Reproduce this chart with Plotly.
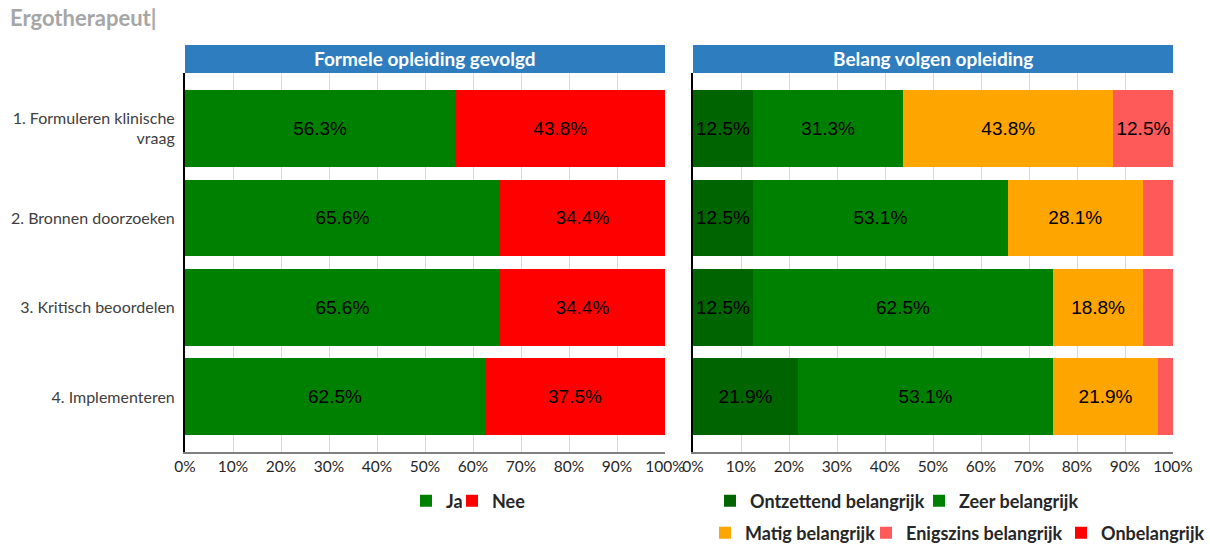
import plotly.graph_objects as go

W, H = 1210, 544

categories = ["1. Formuleren klinische<br>vraag", "2. Bronnen doorzoeken",
              "3. Kritisch beoordelen", "4. Implementeren"]

# Left panel: Formele opleiding gevolgd
ja = [56.3, 65.6, 65.6, 62.5]
nee = [43.8, 34.4, 34.4, 37.5]

# Right panel: Belang volgen opleiding
ontzettend = [12.5, 12.5, 12.5, 21.9]
zeer = [31.3, 53.1, 62.5, 53.1]
matig = [43.8, 28.1, 18.8, 21.9]
enigszins = [12.5, 6.3, 6.3, 3.1]
onbelangrijk = [0, 0, 0, 0]

left_series = [("Ja", ja, "#008000"), ("Nee", nee, "#FF0000")]
right_series = [
    ("Ontzettend belangrijk", ontzettend, "#006400"),
    ("Zeer belangrijk", zeer, "#008000"),
    ("Matig belangrijk", matig, "#FFA500"),
    ("Enigszins belangrijk", enigszins, "#FF5A5A"),
    ("Onbelangrijk", onbelangrijk, "#FF0000"),
]

panel_titles = ["Formele opleiding gevolgd", "Belang volgen opleiding"]
chart_title = "Ergotherapeut|"

# legend placement (pixel x of legend box, pixel y of row centre), one per series
legend_pos = [(406, 501), (452, 501),
              (710, 501), (919, 501),
              (705, 533), (866, 533), (1061, 533)]


def px_x(p):
    return p / W


def px_y(p):
    return 1 - p / H


def labels(vals):
    return [f"{v:.1f}%" if v >= 10 else "" for v in vals]


BAR_FONT = dict(family="Liberation Sans, Arial, sans-serif", size=19, color="#000000")
UI_FONT = "Lato, Open Sans, sans-serif"

fig = go.Figure()
all_series = [(n, v, c, "x", "y") for n, v, c in left_series] + \
             [(n, v, c, "x2", "y2") for n, v, c in right_series]
for i, (name, vals, col, xa, ya) in enumerate(all_series):
    lg = "legend" if i == 0 else f"legend{i + 1}"
    fig.add_trace(go.Bar(
        y=categories, x=vals, name=name, orientation="h",
        marker=dict(color=col, line=dict(width=0)),
        text=labels(vals), textposition="inside", insidetextanchor="middle",
        textangle=0, textfont=BAR_FONT, xaxis=xa, yaxis=ya,
        legend=lg, hoverinfo="x+name",
    ))

left_dom = [px_x(185), px_x(665)]
right_dom = [px_x(693), px_x(1173)]
y_dom = [px_y(452), px_y(73)]
yr = [3.615, -0.62]

xaxis_common = dict(
    range=[0, 100], dtick=10, ticksuffix="%", showgrid=True,
    gridcolor="#d9d9d9", gridwidth=1, zeroline=False,
    showline=True, linecolor="#7f7f7f", linewidth=1.5,
    tickfont=dict(family=UI_FONT, size=15.5, color="#262626"),
    fixedrange=True, ticks="", automargin=False,
)

legend_common = dict(
    orientation="h", xanchor="left", yanchor="middle",
    font=dict(family=UI_FONT, size=18, color="#262626", weight="bold"),
    itemwidth=30, bgcolor="rgba(0,0,0,0)",
    itemclick=False, itemdoubleclick=False,
)

layout_legends = {}
for i, (lx, ly) in enumerate(legend_pos):
    key = "legend" if i == 0 else f"legend{i + 1}"
    layout_legends[key] = dict(x=px_x(lx), y=px_y(ly), **legend_common)

fig.update_layout(
    width=W, height=H, autosize=False,
    margin=dict(l=0, r=0, t=0, b=0, autoexpand=False),
    paper_bgcolor="white", plot_bgcolor="white",
    barmode="stack", bargap=0.14,
    xaxis=dict(domain=left_dom, anchor="y", **xaxis_common),
    xaxis2=dict(domain=right_dom, anchor="y2", **xaxis_common),
    yaxis=dict(domain=y_dom, anchor="x", range=yr, type="category",
               categoryorder="array", categoryarray=categories,
               showline=True, linecolor="#000000", linewidth=2,
               showgrid=False, ticks="", ticklabelstandoff=5,
               tickfont=dict(family=UI_FONT, size=16, color="#404040"),
               fixedrange=True, automargin=False),
    yaxis2=dict(domain=y_dom, anchor="x2", range=yr, type="category",
                categoryorder="array", categoryarray=categories,
                showline=True, linecolor="#000000", linewidth=2,
                showgrid=False, showticklabels=False, ticks="",
                fixedrange=True, automargin=False),
    showlegend=True,
    **layout_legends,
)

# Panel header bars
for dom, title in zip([left_dom, right_dom], panel_titles):
    fig.add_shape(type="rect", xref="paper", yref="paper",
                  x0=dom[0], x1=dom[1], y0=px_y(73), y1=px_y(45),
                  fillcolor="#2E7DBF", line=dict(width=0), layer="above")
    fig.add_annotation(xref="paper", yref="paper", x=(dom[0] + dom[1]) / 2,
                       y=px_y(59), text=f"<b>{title}</b>", showarrow=False,
                       xanchor="center", yanchor="middle",
                       font=dict(family=UI_FONT, size=19, color="white"))

fig.add_annotation(xref="paper", yref="paper", x=px_x(8), y=px_y(18),
                   text=f"<b>{chart_title}</b>", showarrow=False,
                   xanchor="left", yanchor="middle",
                   font=dict(family=UI_FONT, size=22, color="#A6A6A6"))

fig.write_html(
    "out.html",
    config={"displayModeBar": False},
    post_script="document.body.style.margin='0px';document.body.style.overflow='hidden';",
)
